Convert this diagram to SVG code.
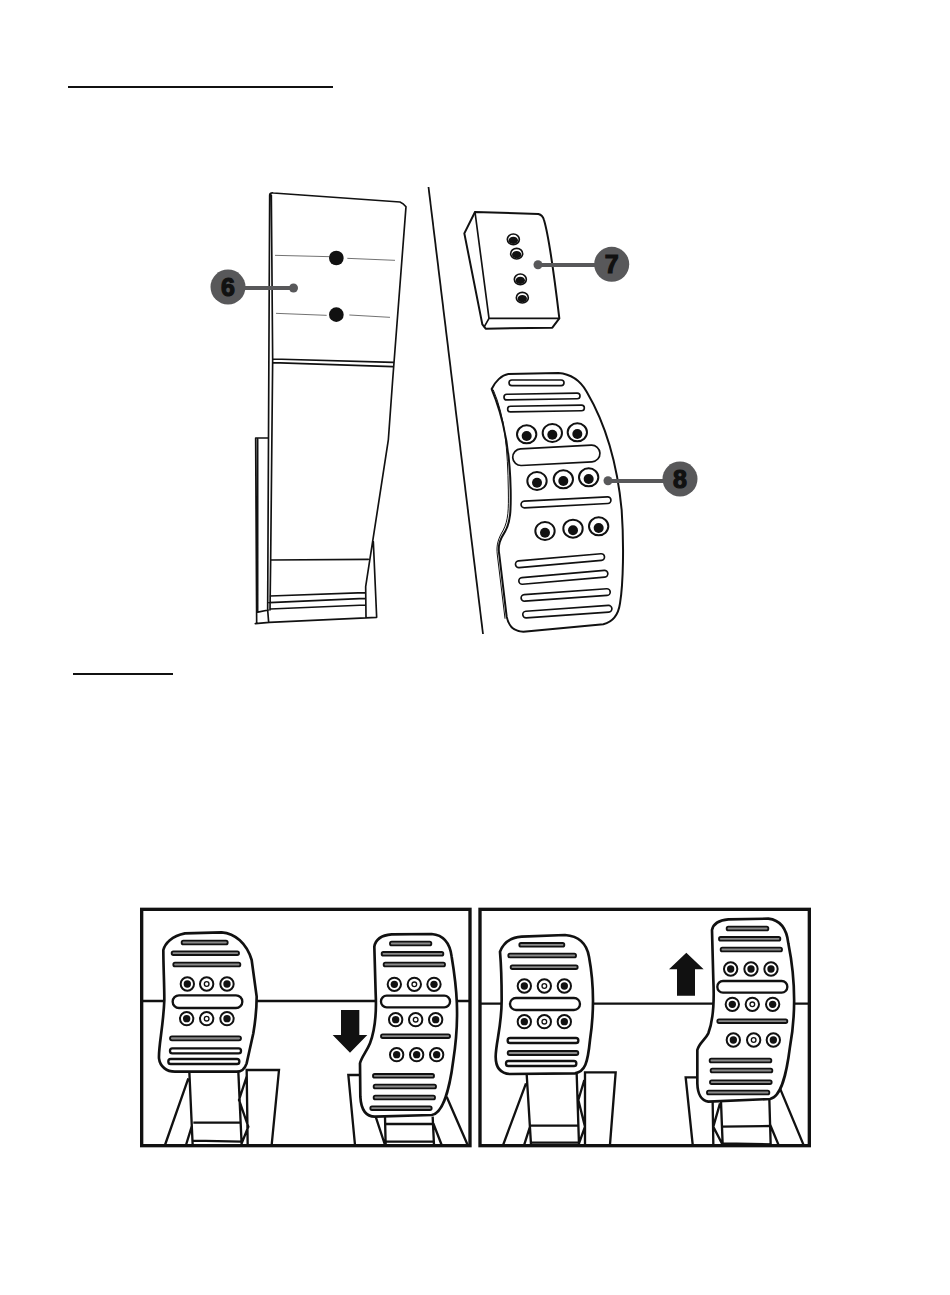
<svg xmlns="http://www.w3.org/2000/svg" width="950" height="1295" viewBox="0 0 950 1295">
<style>
.l{fill:none;stroke:#111;stroke-linecap:round;stroke-linejoin:round}
.z1 .l{stroke-width:5}
.thin{fill:none;stroke:#555;stroke-width:2.5}
.body{fill:#fff;stroke:#111;stroke-width:6;stroke-linejoin:round}
.slot{fill:#fff;stroke:#111;stroke-width:5}
.gs{fill:#8a8a8a;stroke:#111;stroke-width:5.5}
.ws{fill:#fff;stroke:#111;stroke-width:7}
.p{fill:#fff;stroke:#111;stroke-width:8;stroke-linejoin:round}
.s{fill:none;stroke:#111;stroke-width:7;stroke-linecap:butt}
.badge{fill:#58585a}
.lead{stroke:#58585a;stroke-width:4;fill:none}
.dot{fill:#58585a}
.num{font-family:"Liberation Sans",Arial,sans-serif;font-weight:700;font-size:25px;fill:#111;stroke:#111;stroke-width:1.2;text-anchor:middle}
</style>
<defs>
<g id="hb"><circle r="20" fill="#fff" stroke="#111" stroke-width="6"/><circle r="11" fill="#111"/></g>
<g id="hr"><circle r="20" fill="#fff" stroke="#111" stroke-width="6"/><circle r="7" fill="#fff" stroke="#111" stroke-width="4"/></g>
<g id="hB"><ellipse rx="29" ry="27" fill="#fff" stroke="#111" stroke-width="6"/><circle cy="5" r="15" fill="#111"/></g>
<g id="hs"><ellipse rx="18" ry="16" fill="#fff" stroke="#111" stroke-width="5"/><ellipse cy="3" rx="14" ry="11" fill="#111"/></g>
</defs>
<rect width="950" height="1295" fill="#fff"/>
<g id="rules"><path d="M68 87H333M73 674H173" stroke="#111" stroke-width="2" fill="none"/></g>
<g id="divider"><path d="M428.500 187L483 634" stroke="#111" stroke-width="1.800" fill="none"/></g>

<g id="pedal-base" class="z1" transform="translate(200 180) scale(.33333)">
<path class="l" d="M209 45Q210 38 220 39L600 66Q610 70 618 80L578 600L565 780L497 1220L498 1312M209 45L203 1290L206 1327M214 45L218 540L212 1140L210 1290M218 537L580 547M218 548L578 560M212 1140L505 1138M210 1248L495 1238M208 1268L495 1255M210 1287L497 1275M167 774H205M167 774L170 1330M173 778V1297M170 1297L205 1290M166 1331L208 1327L530 1312L520 1085"/>
<path class="thin" d="M225 226L388 230M442 235L585 241M228 400L380 406M448 405L570 412"/>
<circle cx="409" cy="234" r="22" fill="#111"/><circle cx="409" cy="404" r="22" fill="#111"/>
</g>

<g id="block" transform="translate(440 190) scale(.33333)">
<path class="body" d="M105 66L295 72Q308 75 312 90Q330 150 358 385L337 413L137 416L127 403L73 130Z"/>
<path class="l" style="stroke-width:5" d="M105 66L147 385L358 385M147 385L133 410"/>
<use href="#hs" x="220" y="148"/><use href="#hs" x="230" y="191"/><use href="#hs" x="241" y="268"/><use href="#hs" x="247" y="323"/>
</g>

<g id="pedal-plate" transform="translate(440 190) scale(.33333)">
<path class="body" d="M155 597C165 575 185 555 205 552L355 549C395 552 420 570 440 605C490 690 530 800 545 960C552 1060 550 1180 540 1240C535 1275 520 1295 490 1303L250 1325C220 1325 205 1305 200 1280L178 1095C172 1065 182 1045 195 1025C212 995 213 960 212 900C210 780 190 680 155 597Z"/>
<path class="l" style="stroke-width:3" d="M160 600C195 680 203 780 205 900C206 960 205 990 190 1020C175 1045 168 1065 172 1095L195 1285"/>
<rect class="slot" x="207" y="570" width="165" height="17" rx="8.500"/>
<rect class="slot" x="192" y="611" width="228" height="17" rx="8.500" transform="rotate(-1 306 620)"/>
<rect class="slot" x="203" y="647" width="230" height="17" rx="8.500" transform="rotate(-1 318 655)"/>
<rect class="slot" x="218" y="771" width="262" height="50" rx="25" transform="rotate(-3 349 796)"/>
<rect class="slot" x="243" y="927" width="270" height="20" rx="10" transform="rotate(-3 378 937)"/>
<rect class="slot" x="226" y="1102" width="268" height="20" rx="10" transform="rotate(-5 360 1112)"/>
<rect class="slot" x="236" y="1152" width="268" height="20" rx="10" transform="rotate(-5 370 1162)"/>
<rect class="slot" x="243" y="1205" width="268" height="20" rx="10" transform="rotate(-4 377 1215)"/>
<rect class="slot" x="248" y="1255" width="268" height="20" rx="10" transform="rotate(-4 382 1265)"/>
<use href="#hB" x="260" y="733"/><use href="#hB" x="337" y="729"/><use href="#hB" x="412" y="727"/>
<use href="#hB" x="291" y="873"/><use href="#hB" x="370" y="868"/><use href="#hB" x="446" y="862"/>
<use href="#hB" x="315" y="1023"/><use href="#hB" x="399" y="1016"/><use href="#hB" x="476" y="1009"/>
</g>

<g id="connectors">
<path class="lead" d="M228 288H293M538 265H612M608 481H680"/>
<circle class="dot" cx="293.500" cy="288" r="4.500"/><circle class="dot" cx="538" cy="264.700" r="4.500"/><circle class="dot" cx="608" cy="480.700" r="4.500"/>
</g>
<g id="badge-6"><circle class="badge" cx="228" cy="287" r="17.500"/><text class="num" x="228" y="296">6</text></g>
<g id="badge-7"><circle class="badge" cx="611.700" cy="264.300" r="17.500"/><text class="num" x="611.700" y="273">7</text></g>
<g id="badge-8"><circle class="badge" cx="680" cy="479" r="17.500"/><text class="num" x="680" y="488">8</text></g>

<g id="panel-down" transform="translate(135 900) scale(.33333)">
<path d="M20 303H1005" class="s"/>
<path class="s" d="M160 535L90 735M163 515L173 735M310 515L320 735M338 735L335 510H432L410 735M175 668H318M175 722L320 725M170 680L153 735M335 530L312 600L340 680L320 730"/>
<path class="s" d="M680 525H640L660 735M935 590L998 735M722 650L750 735M750 650L752 735M893 650L897 735M750 672H893M752 725L895 725M895 670L920 735"/>
<path fill="#111" d="M618 330H673V405H697L645 458L593 405H618Z"/>
<path class="p" d="M85 150C90 130 110 108 150 100L260 97C300 100 335 130 350 180L365 290C365 330 360 370 355 400L335 490C330 505 320 515 305 515L120 515C95 515 75 500 72 475C70 440 85 380 88 300C88 250 85 200 85 150Z"/>
<path class="p" d="M718 140C722 115 745 105 770 103L890 102C925 105 945 130 950 170C965 260 975 350 955 480C945 560 925 640 890 645L720 650C690 650 678 625 676 590L675 490C680 470 695 455 705 430C720 390 725 340 722 280Z"/>
<rect class="gs" x="140" y="122" width="138" height="11" rx="5"/><rect class="gs" x="110" y="154" width="202" height="11" rx="5"/><rect class="gs" x="115" y="188" width="201" height="11" rx="5"/>
<rect class="ws" x="113" y="286" width="209" height="38" rx="19"/>
<rect class="gs" x="105" y="409" width="213" height="12" rx="6"/><rect class="ws" x="105" y="445" width="213" height="15" rx="7"/><rect class="ws" x="100" y="477" width="213" height="15" rx="7"/>
<use href="#hb" x="157" y="252"/><use href="#hr" x="215" y="252"/><use href="#hb" x="276" y="252"/>
<use href="#hb" x="155" y="356"/><use href="#hr" x="215" y="356"/><use href="#hb" x="276" y="356"/>
<rect class="gs" x="765" y="125" width="124" height="11" rx="5"/><rect class="gs" x="740" y="156" width="185" height="11" rx="5"/><rect class="gs" x="746" y="188" width="184" height="11" rx="5"/>
<rect class="ws" x="738" y="287" width="207" height="35" rx="17"/>
<rect class="gs" x="738" y="403" width="207" height="11" rx="5"/>
<rect class="gs" x="714" y="522" width="183" height="11" rx="5"/><rect class="gs" x="716" y="554" width="187" height="11" rx="5"/><rect class="gs" x="716" y="587" width="184" height="11" rx="5"/><rect class="gs" x="706" y="619" width="184" height="11" rx="5"/>
<use href="#hb" x="778" y="253"/><use href="#hr" x="838" y="253"/><use href="#hb" x="897" y="253"/>
<use href="#hb" x="782" y="359"/><use href="#hr" x="842" y="359"/><use href="#hb" x="902" y="359"/>
<use href="#hb" x="785" y="464"/><use href="#hb" x="845" y="464"/><use href="#hb" x="905" y="464"/>
<rect x="20" y="28" width="985" height="709" fill="none" stroke="#111" stroke-width="10"/>
</g>

<g id="panel-up" transform="translate(475 900) scale(.33333)">
<path d="M15 311H1000" class="s"/>
<path class="s" d="M153 550L85 733M155 522L168 733M305 520L312 733M330 733V517H422L405 733M165 677H310M170 728L310 728M165 680L148 733M328 540L310 600L330 680L312 730"/>
<path class="s" d="M668 532H632L653 733M915 565L985 733M713 605L715 733M738 605L743 733M883 597L887 733M740 680L887 678L910 733M715 680L742 733M743 730L890 733M735 610L715 680"/>
<path fill="#111" d="M606 287V208H582L634 158L686 208H660V287Z"/>
<path class="p" d="M75 155C85 130 105 112 140 110L270 105C310 108 335 130 342 170C355 240 360 320 345 420C338 490 330 515 300 520L105 522C75 520 62 500 62 470C62 430 80 380 80 300C80 240 78 190 75 155Z"/>
<path class="p" d="M711 90C715 70 735 60 760 58L880 56C915 60 935 85 940 130C960 230 965 330 945 440C935 520 920 590 885 597L700 605C675 600 668 580 667 550L667 450C672 430 690 420 700 400C715 360 718 300 715 240Z"/>
<rect class="gs" x="133" y="129" width="135" height="11" rx="5"/><rect class="gs" x="100" y="161" width="203" height="11" rx="5"/><rect class="gs" x="107" y="196" width="201" height="11" rx="5"/>
<rect class="ws" x="105" y="294" width="210" height="36" rx="18"/>
<rect class="ws" x="98" y="414" width="212" height="15" rx="7"/><rect class="gs" x="98" y="453" width="212" height="12" rx="6"/><rect class="ws" x="93" y="483" width="211" height="15" rx="7"/>
<use href="#hb" x="148" y="258"/><use href="#hr" x="208" y="258"/><use href="#hb" x="268" y="258"/>
<use href="#hb" x="148" y="365"/><use href="#hr" x="208" y="365"/><use href="#hb" x="268" y="365"/>
<rect class="gs" x="755" y="80" width="125" height="11" rx="5"/><rect class="gs" x="732" y="111" width="184" height="11" rx="5"/><rect class="gs" x="737" y="143" width="184" height="11" rx="5"/>
<rect class="ws" x="727" y="243" width="210" height="35" rx="17"/>
<rect class="gs" x="727" y="358" width="210" height="11" rx="5"/>
<rect class="gs" x="704" y="476" width="185" height="11" rx="5"/><rect class="gs" x="707" y="506" width="185" height="11" rx="5"/><rect class="gs" x="705" y="541" width="185" height="11" rx="5"/><rect class="gs" x="696" y="572" width="187" height="11" rx="5"/>
<use href="#hb" x="767" y="207"/><use href="#hb" x="828" y="207"/><use href="#hb" x="888" y="207"/>
<use href="#hb" x="772" y="313"/><use href="#hr" x="832" y="313"/><use href="#hb" x="893" y="313"/>
<use href="#hb" x="775" y="420"/><use href="#hr" x="836" y="420"/><use href="#hb" x="895" y="420"/>
<rect x="15" y="28" width="988" height="709" fill="none" stroke="#111" stroke-width="10"/>
</g>
</svg>
